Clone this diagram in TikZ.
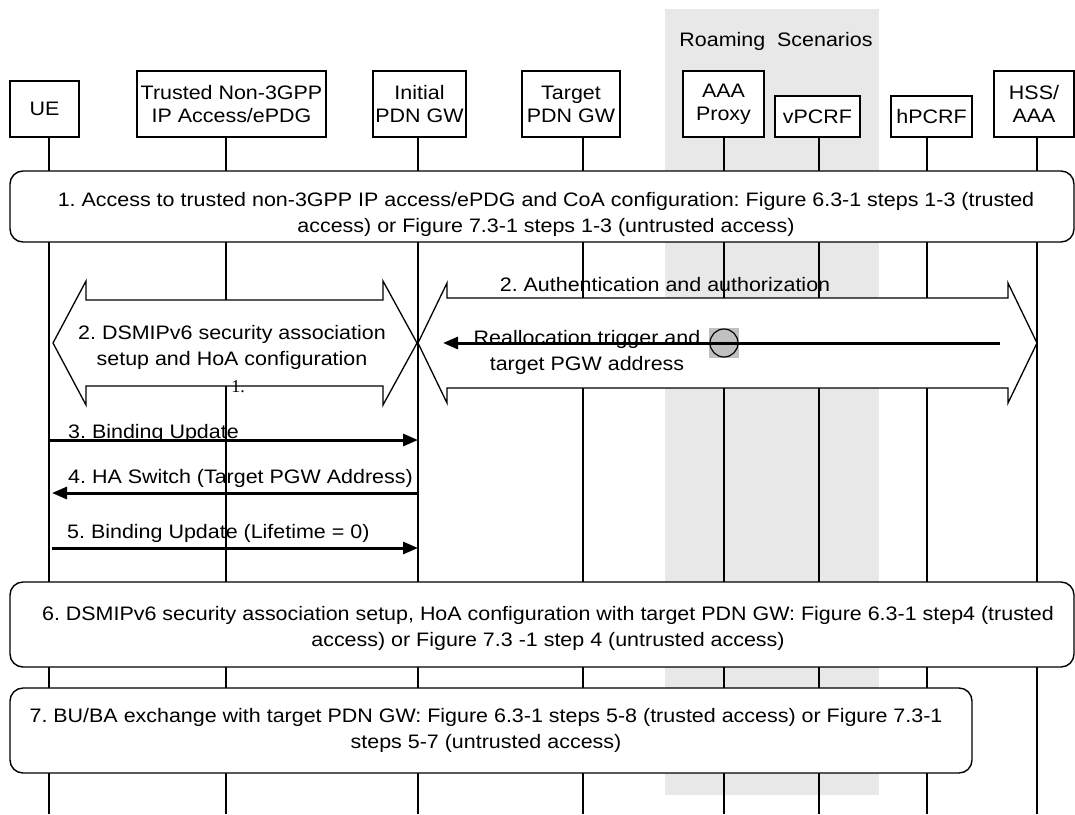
\documentclass[tikz,border=0pt]{standalone}
\usepackage{fontspec}
\setmainfont{Liberation Sans}[FakeStretch=1.1]
\newfontfamily\serifnum{Liberation Serif}
\usetikzlibrary{arrows.meta}
\definecolor{roamgrey}{HTML}{E8E8E8}
\definecolor{dotgrey}{HTML}{C0C0C0}
\tikzset{
  entity/.style={draw, line width=1.3pt, fill=white, align=center, inner sep=0pt,
                 font=\fontsize{19.5}{23}\selectfont},
  life/.style={line width=1.2pt},
  stepbox/.style={draw, line width=1.4pt, rounded corners=13pt, fill=white},
  blockarrow/.style={draw, line width=1.3pt, fill=white, line join=miter},
  msg/.style={line width=3pt, -{Triangle[length=15pt,width=12pt]}},
  lbl/.style={font=\fontsize{19.5}{26}\selectfont, align=center, inner sep=0pt}
}
\frenchspacing

\begin{document}
\begin{tikzpicture}[x=1pt, y=-1pt]
  \useasboundingbox (0,0) rectangle (1075,814);
  % roaming band
  \fill[roamgrey] (665,9) rectangle (879,795);
  \node[lbl] (roam) at (776,41) {Roaming \ Scenarios};

  % entities
  \node[entity, minimum width=69, minimum height=56] (ue)  at (44.5,109) {UE};
  \node[entity, minimum width=189, minimum height=66] (tna) at (231.5,104) {Trusted Non-3GPP\\IP Access/ePDG};
  \node[entity, minimum width=93, minimum height=66] (ini) at (419.5,104) {Initial\\PDN GW};
  \node[entity, minimum width=98, minimum height=66] (tgt) at (571,104) {Target\\PDN GW};
  \node[entity, minimum width=81, minimum height=66] (aaa) at (723.5,104) {AAA\\Proxy};
  \node[entity, minimum width=85, minimum height=41] (vp)  at (817.5,116.5) {vPCRF};
  \node[entity, minimum width=81, minimum height=41] (hp)  at (931.5,116.5) {hPCRF};
  \node[entity, minimum width=80, minimum height=66] (hss) at (1034,104) {HSS/\\AAA};

  % lifelines
  \foreach \n/\x in {ue/49, tna/226, ini/418, tgt/583, aaa/724, vp/819, hp/927, hss/1037} {
    \coordinate (\n L) at (\x,0);
    \draw[life] (\n.south -| \n L) -- (\n L |- 0,814);
  }

  % step 2 block arrows
  \draw[blockarrow] (53,343) -- (86,281) -- (86,300) -- (383,300) -- (383,281) -- (417,343)
    -- (383,405) -- (383,386) -- (86,386) -- (86,405) -- cycle;
  \draw[blockarrow] (418,343) -- (447,283) -- (447,298) -- (1008,298) -- (1008,283) -- (1037,343)
    -- (1008,403) -- (1008,388) -- (447,388) -- (447,403) -- cycle;
  \node[lbl] (sa) at (232,347) {2. DSMIPv6 security association\\setup and HoA configuration};
  \node[font=\serifnum\fontsize{18}{18}\selectfont, inner sep=0pt] (one) at (238,387) {1.};
  \node[lbl] (auth) at (665,285) {2. Authentication and authorization};

  % reallocation trigger
  \fill[dotgrey] (709,328) rectangle (739,358);
  \node[circle, draw, line width=1.2pt, fill=dotgrey, minimum size=28, inner sep=0pt] (dot) at (724,343) {};
  \node[lbl] (realloc) at (587,352) {Reallocation trigger and\\target PGW address};
  \coordinate (trig) at (1000,343);
  \draw[msg] (trig) -- (443,343);

  % messages 3-5
  \draw[msg] (ueL |- 0,440) -- (iniL |- 0,440);
  \node[lbl, anchor=west] (bu) at (68,433) {3. Binding Update};
  \draw[msg] (iniL |- 0,493) -- (52,493);
  \node[lbl, anchor=west] (has) at (68,478) {4. HA Switch (Target PGW Address)};
  \draw[msg] (52,548) -- (iniL |- 0,548);
  \node[lbl, anchor=west] (bu0) at (67,533) {5. Binding Update (Lifetime = 0)};

  % steps
  \node[stepbox, minimum width=1064, minimum height=71] (s1) at (542,206.5) {};
  \node[lbl] (s1txt) at (546,214)
    {1. Access to trusted non-3GPP IP access/ePDG and CoA configuration: Figure 6.3-1 steps 1-3 (trusted\\
     access) or Figure 7.3-1 steps 1-3 (untrusted access)};
  \node[stepbox, minimum width=1064, minimum height=85] (s6) at (542,624.5) {};
  \node[lbl] (s6txt) at (548,628)
    {6. DSMIPv6 security association setup, HoA configuration with target PDN GW: Figure 6.3-1 step4 (trusted\\
     access) or Figure 7.3 -1 step 4 (untrusted access)};
  \node[stepbox, minimum width=962, minimum height=85] (s7) at (491,730.5) {};
  \node[lbl] (s7txt) at (486,730)
    {7. BU/BA exchange with target PDN GW: Figure 6.3-1 steps 5-8 (trusted access) or Figure 7.3-1\\
     steps 5-7 (untrusted access)};
\end{tikzpicture}
\end{document}
